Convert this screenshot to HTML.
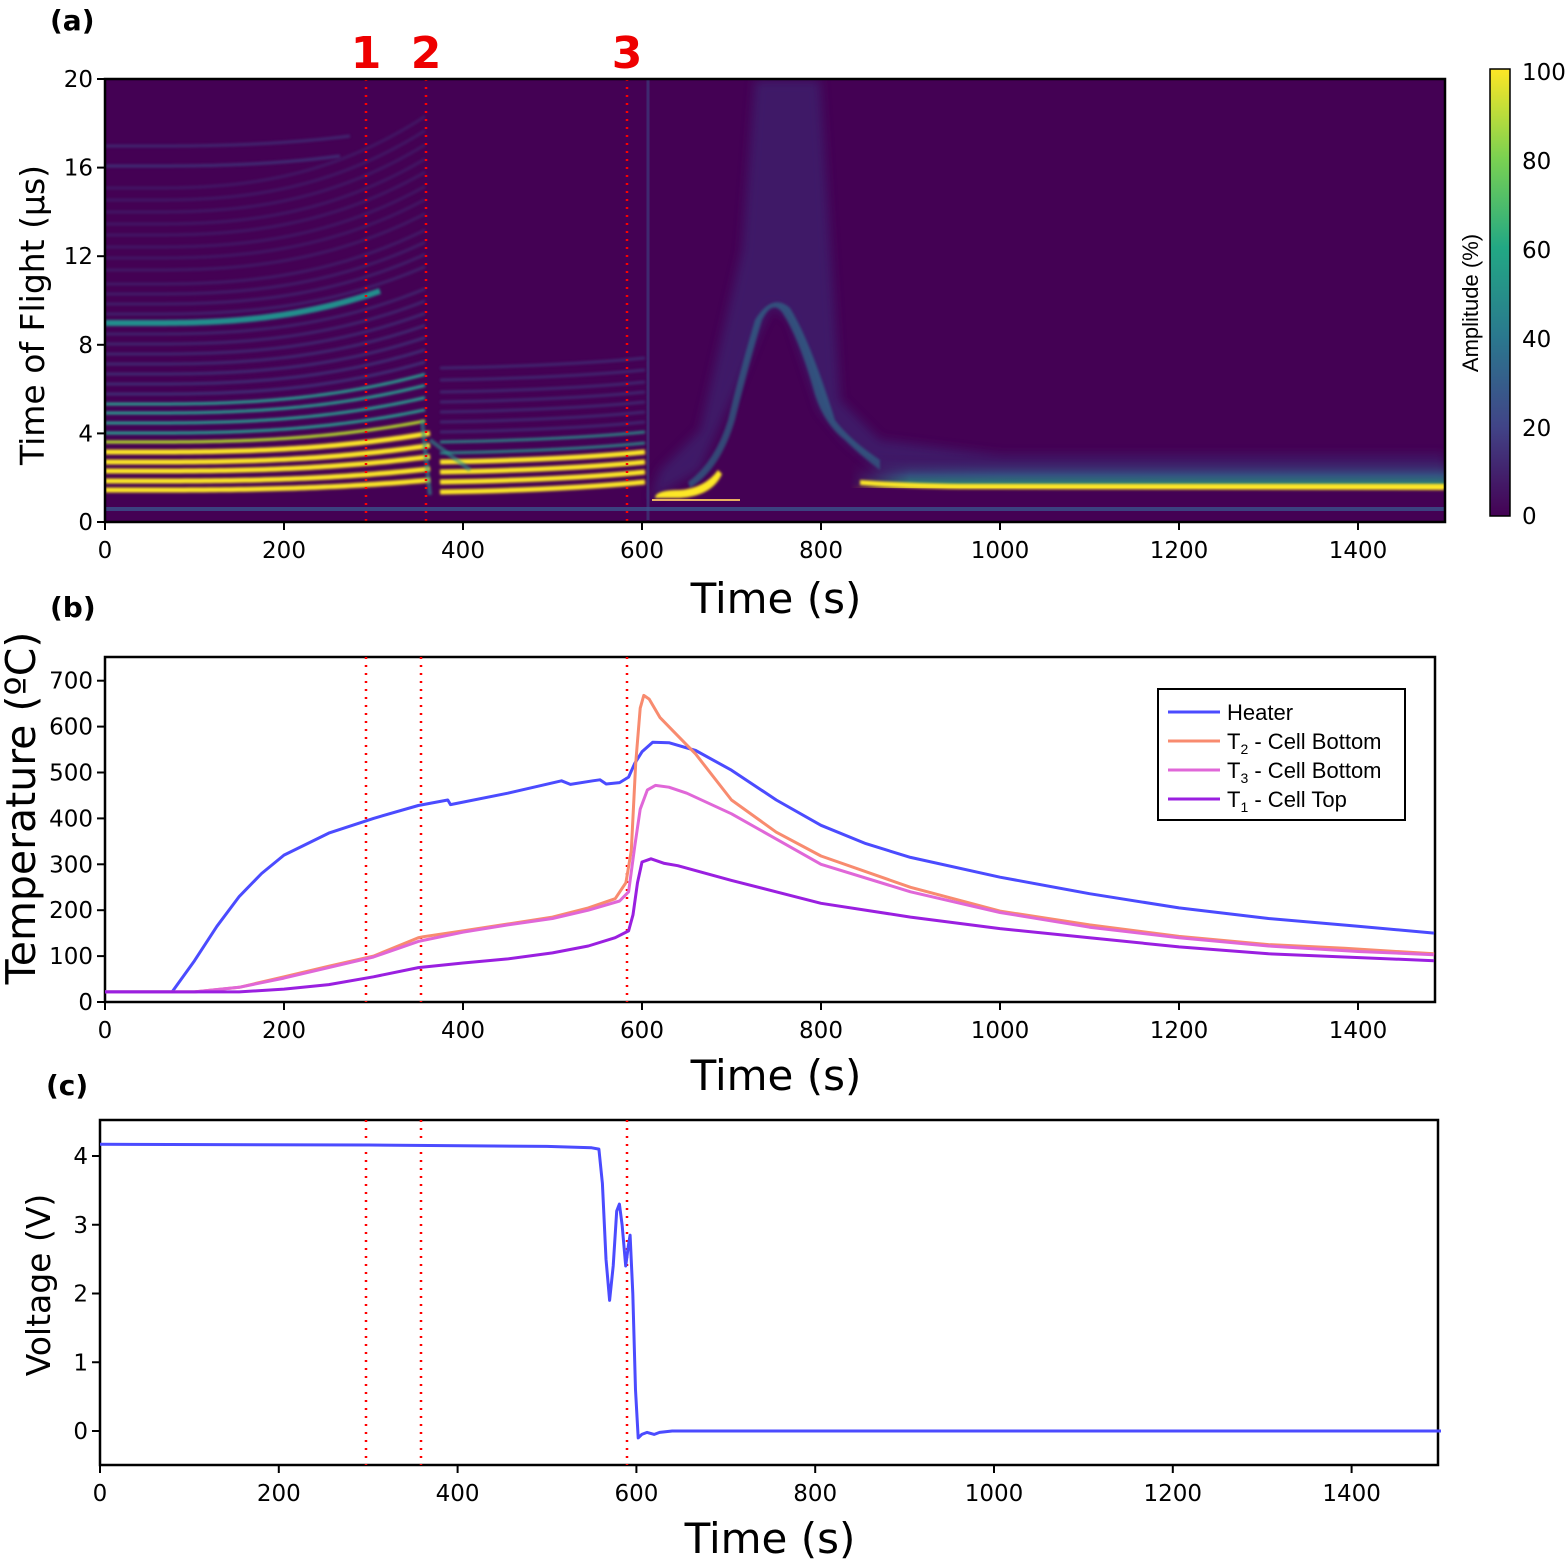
<!DOCTYPE html>
<html><head><meta charset="utf-8"><style>
body{margin:0;background:#fff}
svg{display:block}
text{font-family:"DejaVu Sans","Liberation Sans",sans-serif;fill:#000}
.lg{font-family:"Liberation Sans",sans-serif}
</style></head><body>
<svg id="s" width="1568" height="1563" viewBox="0 0 1568 1563" xmlns="http://www.w3.org/2000/svg">
<defs>
<filter id="b1" x="-5%" y="-50%" width="110%" height="200%"><feGaussianBlur stdDeviation="1.2"/></filter>
<filter id="b3"><feGaussianBlur stdDeviation="5"/></filter>
<linearGradient id="cb" x1="0" y1="1" x2="0" y2="0">
<stop offset="0" stop-color="#440154"/><stop offset="0.2" stop-color="#414487"/><stop offset="0.4" stop-color="#2a788e"/><stop offset="0.6" stop-color="#22a884"/><stop offset="0.8" stop-color="#7ad151"/><stop offset="1" stop-color="#fde725"/></linearGradient>
<linearGradient id="tail" x1="0" y1="1" x2="0" y2="0">
<stop offset="0" stop-color="#fde725"/><stop offset="0.15" stop-color="#22a884"/><stop offset="0.4" stop-color="#31688e"/><stop offset="1" stop-color="#440154" stop-opacity="0"/></linearGradient>
<linearGradient id="fadex" x1="0" y1="0" x2="1" y2="0"><stop offset="0" stop-color="#fff" stop-opacity="0"/><stop offset="0.1" stop-color="#fff" stop-opacity="1"/></linearGradient>
<mask id="mk"><rect x="850" y="79" width="600" height="443" fill="url(#fadex)"/></mask>
<clipPath id="ca"><rect x="105" y="79" width="1340" height="443"/></clipPath>
</defs>
<rect x="105" y="79" width="1340" height="443" fill="#440154"/>
<g clip-path="url(#ca)" id="heat">
<path d="M650 500 L700 470 L740 380 L760 330 L772 305 L790 320 L820 410 L845 440 L880 470 L1000 478 L1445 480 L1445 455 L1000 455 L880 440 L840 400 L820 80 L755 80 L742 250 L700 430 L660 470 Z" fill="#3b2f78" opacity="0.55" filter="url(#b3)"/>
<path d="M690 488 Q720 470 735 420 Q750 360 762 320 Q772 300 782 312 Q800 340 815 395 Q825 425 845 440 Q860 455 880 470 L880 460 Q850 440 835 420 Q810 340 790 308 Q772 292 755 320 Q740 370 728 420 Q715 462 688 482 Z" fill="#2a788e" opacity="0.6" filter="url(#b1)"/>
<rect x="850" y="455" width="595" height="33" fill="url(#tail)" opacity="0.7" mask="url(#mk)"/>
<path d="M860 480 Q900 483 960 484 L1445 484 L1445 490 L960 489 Q900 488 860 485 Z" fill="#fde725" filter="url(#b1)"/>
<path d="M655 498 Q655 490 680 490 Q705 488 718 470 L722 474 Q712 496 680 498 Z" fill="#fde725" filter="url(#b1)"/>
<line x1="652" y1="500" x2="740" y2="500" stroke="#e8b060" stroke-width="2"/>
<rect x="105" y="507" width="1340" height="4" fill="#3b528b" opacity="0.8"/>
<path d="M648 79 L648 520" stroke="#3b528b" stroke-width="3" opacity="0.5"/>
</g>
<line x1="366" y1="79" x2="366" y2="522" stroke="#f00" stroke-width="2.5" stroke-dasharray="2 6"/>
<line x1="426" y1="79" x2="426" y2="522" stroke="#f00" stroke-width="2.5" stroke-dasharray="2 6"/>
<line x1="627" y1="79" x2="627" y2="522" stroke="#f00" stroke-width="2.5" stroke-dasharray="2 6"/>
<rect x="105" y="79" width="1340" height="443" fill="none" stroke="#000" stroke-width="2.5"/>
<g id="ta"></g>
<text x="50" y="30" font-size="28" font-weight="bold">(a)</text>
<text x="366" y="68" font-size="44" font-weight="bold" style="fill:#e00" text-anchor="middle">1</text>
<text x="426" y="68" font-size="44" font-weight="bold" style="fill:#e00" text-anchor="middle">2</text>
<text x="627" y="68" font-size="44" font-weight="bold" style="fill:#e00" text-anchor="middle">3</text>
<text transform="translate(44,315) rotate(-90)" font-size="33" text-anchor="middle">Time of Flight (µs)</text>
<text x="776" y="613" font-size="42" text-anchor="middle">Time (s)</text>
<rect x="1490" y="69" width="20" height="447" fill="url(#cb)" stroke="#000" stroke-width="1.5"/>
<g font-size="23">
<text x="1522" y="80">100</text><text x="1522" y="169">80</text><text x="1522" y="258">60</text><text x="1522" y="347">40</text><text x="1522" y="436">20</text><text x="1522" y="524">0</text>
</g>
<text class="lg" transform="translate(1478,303) rotate(-90)" font-size="22" text-anchor="middle">Amplitude (%)</text>
<rect x="105" y="657" width="1330" height="345" fill="none" stroke="#000" stroke-width="2.5"/>
<line x1="366" y1="657" x2="366" y2="1002" stroke="#f00" stroke-width="2.5" stroke-dasharray="2 6"/>
<line x1="421" y1="657" x2="421" y2="1002" stroke="#f00" stroke-width="2.5" stroke-dasharray="2 6"/>
<line x1="627" y1="657" x2="627" y2="1002" stroke="#f00" stroke-width="2.5" stroke-dasharray="2 6"/>
<g id="tb"></g>
<text x="50" y="617" font-size="28" font-weight="bold">(b)</text>
<text transform="translate(35,808) rotate(-90)" font-size="41" text-anchor="middle">Temperature (ºC)</text>
<text x="776" y="1090" font-size="42" text-anchor="middle">Time (s)</text>
<rect x="1158" y="689" width="247" height="131" fill="#fff" stroke="#000" stroke-width="2"/>
<g font-size="22" class="lg">
<line x1="1168" y1="712" x2="1220" y2="712" stroke="#4b4bff" stroke-width="3"/><text class="lg" x="1227" y="720">Heater</text>
<line x1="1168" y1="741" x2="1220" y2="741" stroke="#f88b6f" stroke-width="3"/><text class="lg" x="1227" y="749">T<tspan font-size="14" dy="5">2</tspan><tspan dy="-5"> - Cell Bottom</tspan></text>
<line x1="1168" y1="770" x2="1220" y2="770" stroke="#e067d8" stroke-width="3"/><text class="lg" x="1227" y="778">T<tspan font-size="14" dy="5">3</tspan><tspan dy="-5"> - Cell Bottom</tspan></text>
<line x1="1168" y1="799" x2="1220" y2="799" stroke="#9a1fe0" stroke-width="3"/><text class="lg" x="1227" y="807">T<tspan font-size="14" dy="5">1</tspan><tspan dy="-5"> - Cell Top</tspan></text>
</g>
<rect x="100" y="1120" width="1338" height="345" fill="none" stroke="#000" stroke-width="2.5"/>
<line x1="366" y1="1120" x2="366" y2="1465" stroke="#f00" stroke-width="2.5" stroke-dasharray="2 6"/>
<line x1="421" y1="1120" x2="421" y2="1465" stroke="#f00" stroke-width="2.5" stroke-dasharray="2 6"/>
<line x1="627" y1="1120" x2="627" y2="1465" stroke="#f00" stroke-width="2.5" stroke-dasharray="2 6"/>
<g id="tc"></g>
<text x="46" y="1095" font-size="28" font-weight="bold">(c)</text>
<text transform="translate(50,1285) rotate(-90)" font-size="33" text-anchor="middle">Voltage (V)</text>
<text x="770" y="1553" font-size="42" text-anchor="middle">Time (s)</text>
</svg>
<script>
var NS="http://www.w3.org/2000/svg";
function el(p,n,a,t){var e=document.createElementNS(NS,n);for(var k in a)e.setAttribute(k,a[k]);if(t!=null)e.textContent=t;p.appendChild(e);return e;}
var H=document.getElementById('heat');
function band(y,x0,x1,rise,col,w,op){var d="M"+x0+" "+y;for(var x=x0;x<=x1;x+=5){var f=Math.max(0,(x-150)/(x1-150));d+=" L"+x+" "+(y-rise*Math.pow(f,2.5));}el(H,'path',{d:d,stroke:col,'stroke-width':w,fill:'none',opacity:op,filter:'url(#b1)'});}
var ys=[490,481,471,462,452,442,433,423,413,404,394,384,374,364,354,344,334,314,304,294,284,270,258,247,235,224,212,200,188];
for(var i=0;i<ys.length;i++){var c=i<5?'#fde725':(i<6?'#b5de2b':(i<10?'#2a9a8e':'#3e4a89'));var op=i<10?1:Math.max(0.3,0.85-i*0.025);band(ys[i],105,i<5?430:425,10+i*2.2,c,i<5?5:3,op);}
band(323,105,380,32,'#21908d',6,1);
band(166,105,340,10,'#3e4a89',3,0.6);band(146,105,350,10,'#3e4a89',3,0.5);
var ys2=[490,480,470,460,451,440,430,420,410,400,390,378,366];
for(var i=0;i<ys2.length;i++){var c=i<4?'#fde725':(i<6?'#2a9a8e':'#3e4a89');var d="M440 "+(ys2[i]+2)+" Q560 "+ys2[i]+" 645 "+(ys2[i]-8);el(H,'path',{d:d,stroke:c,'stroke-width':i<4?5:3,fill:'none',opacity:i<4?1:(i<6?0.8:0.5),filter:'url(#b1)'});}
el(H,'path',{d:"M422 420 L430 495 M430 440 L470 470",stroke:'#2a9a8e','stroke-width':4,opacity:0.6,filter:'url(#b1)'});
function xt(g,x0,s,y,labels){for(var i=0;i<labels.length;i++){var x=x0+labels[i]*s;el(g,'line',{x1:x,y1:y,x2:x,y2:y+8,stroke:'#000','stroke-width':2});el(g,'text',{x:x,y:y+36,'font-size':23,'text-anchor':'middle'},labels[i]);}}
function yt(g,x,vals,fy){for(var i=0;i<vals.length;i++){var y=fy(vals[i]);el(g,'line',{x1:x-8,y1:y,x2:x,y2:y,stroke:'#000','stroke-width':2});el(g,'text',{x:x-12,y:y+8,'font-size':23,'text-anchor':'end'},vals[i]);}}
var X=[0,200,400,600,800,1000,1200,1400];
var ga=document.getElementById('ta');xt(ga,105,0.895,522,X);yt(ga,105,[0,4,8,12,16,20],function(v){return 522-v*22.15;});
var gb=document.getElementById('tb');xt(gb,105,0.895,1002,X);yt(gb,105,[0,100,200,300,400,500,600,700],function(v){return 1002-v*0.459;});
var gc=document.getElementById('tc');xt(gc,100,0.894,1465,X);yt(gc,100,[0,1,2,3,4],function(v){return 1431-v*68.75;});
function curve(g,pts,fx,fy,col){var d="";for(var i=0;i<pts.length;i++)d+=(i?" L":"M")+fx(pts[i][0]).toFixed(1)+" "+fy(pts[i][1]).toFixed(1);el(g,'path',{d:d,stroke:col,'stroke-width':3,fill:'none','stroke-linejoin':'round'});}
var bx=function(t){return 105+0.895*t},by=function(v){return 1002-0.459*v};
curve(gb,[[0,22],[75,22],[100,90],[125,165],[150,230],[175,280],[200,320],[250,368],[300,400],[350,428],[383,440],[386,430],[450,455],[510,482],[520,474],[545,482],[553,484],[560,475],[575,478],[585,490],[592,520],[600,545],[612,566],[630,565],[660,548],[700,505],[750,440],[800,385],[850,345],[900,315],[1000,272],[1100,236],[1200,205],[1300,182],[1400,165],[1485,150]],bx,by,'#4b4bff');
curve(gb,[[0,22],[100,22],[150,32],[200,55],[250,78],[300,100],[350,140],[355,142],[400,155],[450,170],[500,185],[540,205],[570,225],[582,260],[588,330],[593,520],[598,640],[602,668],[608,660],[620,620],[640,580],[660,540],[700,440],[750,370],[800,318],[900,250],[1000,198],[1100,168],[1200,143],[1300,125],[1385,117],[1485,105]],bx,by,'#f88b6f');
curve(gb,[[0,22],[100,22],[150,32],[200,52],[250,75],[300,98],[350,132],[400,152],[450,168],[500,182],[540,200],[575,220],[585,240],[592,340],[598,420],[606,462],[615,472],[630,468],[650,455],[700,410],[750,355],[800,300],[900,240],[1000,195],[1100,163],[1200,140],[1300,122],[1400,110],[1485,103]],bx,by,'#e067d8');
curve(gb,[[0,22],[150,22],[200,28],[250,38],[300,55],[350,75],[400,85],[450,94],[500,107],[540,122],[570,140],[585,155],[590,190],[595,260],[600,305],[610,312],[625,302],[640,297],[700,265],[800,215],[900,185],[1000,160],[1100,140],[1200,120],[1300,105],[1485,90]],bx,by,'#9a1fe0');
curve(gc,[[0,4.17],[300,4.16],[500,4.14],[550,4.12],[558,4.1],[562,3.6],[566,2.5],[570,1.9],[574,2.4],[578,3.2],[581,3.3],[584,3.0],[588,2.4],[591,2.7],[593,2.85],[596,2.0],[599,0.6],[602,-0.1],[606,-0.05],[612,-0.02],[620,-0.05],[626,-0.02],[640,0],[1500,0]],function(t){return 100+0.894*t},function(v){return 1431-68.75*v},'#4b4bff');
</script>
</body></html>
